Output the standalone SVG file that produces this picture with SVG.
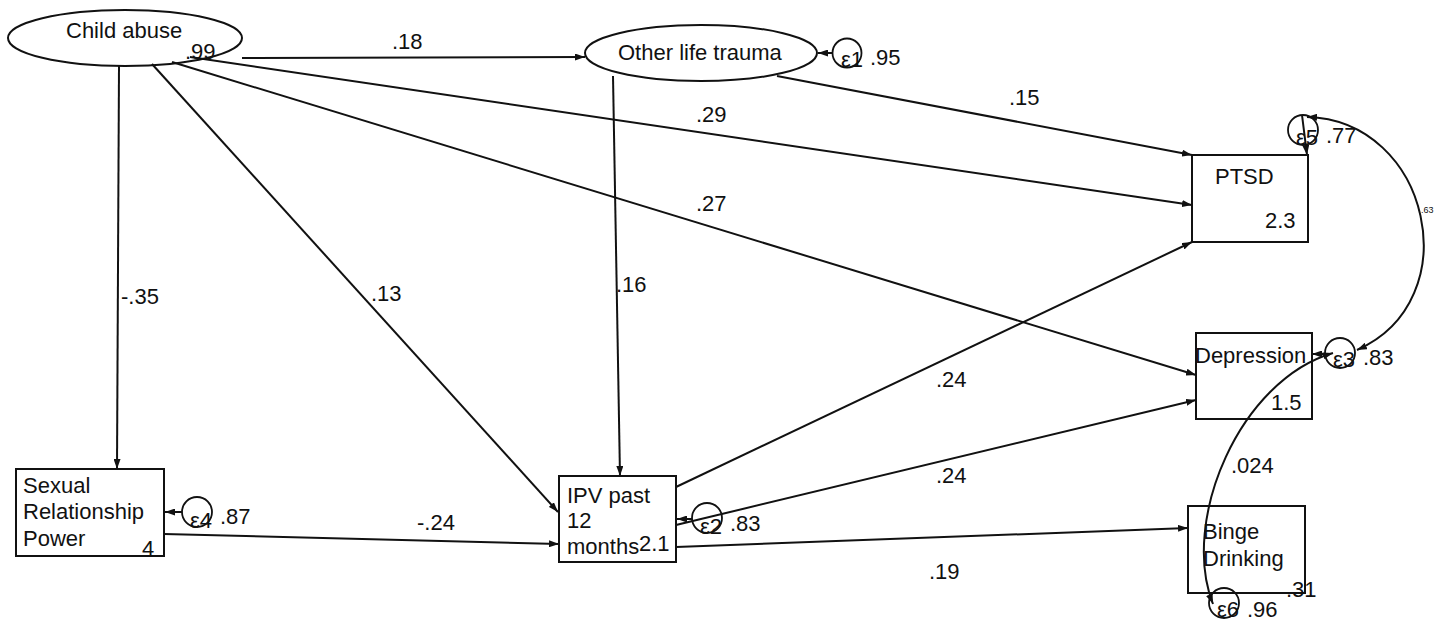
<svg xmlns="http://www.w3.org/2000/svg" width="1434" height="621" viewBox="0 0 1434 621">
<defs>
<marker id="ah" viewBox="0 0 10 7" refX="10" refY="3.5" markerWidth="10" markerHeight="7" markerUnits="userSpaceOnUse" orient="auto-start-reverse">
<path d="M0,0 L10,3.5 L0,7 z" fill="#111"/>
</marker>
</defs>
<style>
.sh{fill:none;stroke:#111;stroke-width:2}
.e{fill:none;stroke:#111;stroke-width:1.8}
.c{fill:none;stroke:#111;stroke-width:2;marker-end:url(#ah)}
.cc{fill:none;stroke:#111;stroke-width:2;marker-end:url(#ah);marker-start:url(#ah)}
text{font-family:"Liberation Sans",Arial,sans-serif;font-size:22px;fill:#111}
.sm{font-size:9px}
</style>
<rect width="1434" height="621" fill="#fff"/>

<g id="connectors">
<line class="c" x1="242" y1="58" x2="585" y2="57"/>
<line class="c" x1="777" y1="76" x2="1192" y2="155"/>
<line class="c" x1="190" y1="57" x2="1192" y2="205"/>
<line class="c" x1="172" y1="62" x2="1196" y2="375"/>
<line class="c" x1="119" y1="66" x2="117" y2="469"/>
<line class="c" x1="152" y1="64" x2="558" y2="512"/>
<line class="c" x1="613" y1="76" x2="620" y2="476"/>
<line class="c" x1="676" y1="487" x2="1192" y2="242"/>
<line class="c" x1="676" y1="525" x2="1196" y2="400"/>
<line class="c" x1="164" y1="534" x2="559" y2="544"/>
<line class="c" x1="676" y1="547" x2="1188" y2="528"/>
<line class="c" x1="832" y1="53" x2="818" y2="53"/>
<line class="c" x1="692" y1="519" x2="677" y2="519"/>
<line class="c" x1="182" y1="512" x2="165" y2="512"/>
<line class="c" x1="1325" y1="354" x2="1312" y2="354"/>
<line class="c" x1="1302" y1="115" x2="1307" y2="155"/>
<path class="cc" d="M1307,117 C1430,120 1470,300 1357,350"/>
<path class="cc" d="M1333,353 C1240,380 1180,520 1213,604"/>
</g>

<g id="child-abuse">
<ellipse class="sh" cx="125" cy="38" rx="117" ry="28"/>
<text x="66" y="38">Child abuse</text>
<text x="185" y="59">.99</text>
</g>

<g id="other-life-trauma">
<ellipse class="sh" cx="701" cy="53" rx="116" ry="28"/>
<text x="618" y="60">Other life trauma</text>
</g>

<g id="e1">
<circle class="e" cx="847" cy="53" r="14.5"/>
<text x="841" y="67">ε1</text>
<text x="870" y="65">.95</text>
</g>

<g id="ptsd">
<rect class="sh" x="1192" y="155" width="116" height="87"/>
<text x="1215" y="184">PTSD</text>
<text x="1265" y="228">2.3</text>
</g>

<g id="e5">
<circle class="e" cx="1303" cy="130" r="15"/>
<text x="1296" y="145">ε5</text>
<text x="1326" y="143">.77</text>
</g>

<g id="depression">
<rect class="sh" x="1196" y="333" width="116" height="86"/>
<text x="1195" y="363">Depression</text>
<text x="1271" y="410">1.5</text>
</g>

<g id="e3">
<circle class="e" cx="1340" cy="353" r="15"/>
<text x="1333" y="367">ε3</text>
<text x="1363" y="365">.83</text>
</g>

<g id="binge-drinking">
<rect class="sh" x="1188" y="506" width="117" height="87"/>
<text x="1203" y="539">Binge</text>
<text x="1203" y="566">Drinking</text>
<text x="1286" y="597">.31</text>
</g>

<g id="e6">
<circle class="e" cx="1224" cy="603" r="15"/>
<text x="1217" y="617">ε6</text>
<text x="1247" y="617">.96</text>
</g>

<g id="ipv">
<rect class="sh" x="559" y="476" width="117" height="86"/>
<text x="567" y="503">IPV past</text>
<text x="567" y="528">12</text>
<text x="567" y="554">months</text>
<text x="639" y="551">2.1</text>
</g>

<g id="e2">
<circle class="e" cx="707" cy="518" r="15"/>
<text x="700" y="534">ε2</text>
<text x="730" y="531">.83</text>
</g>

<g id="srp">
<rect class="sh" x="16" y="469" width="148" height="87"/>
<text x="23" y="493">Sexual</text>
<text x="23" y="519">Relationship</text>
<text x="23" y="546">Power</text>
<text x="142" y="556">4</text>
</g>

<g id="e4">
<circle class="e" cx="197" cy="512" r="15"/>
<text x="190" y="528">ε4</text>
<text x="220" y="524">.87</text>
</g>

<g id="labels">
<text x="392" y="49">.18</text>
<text x="1009" y="105">.15</text>
<text x="696" y="122">.29</text>
<text x="696" y="211">.27</text>
<text x="121" y="304">-.35</text>
<text x="371" y="301">.13</text>
<text x="616" y="292">.16</text>
<text x="936" y="387">.24</text>
<text x="936" y="483">.24</text>
<text x="417" y="530">-.24</text>
<text x="929" y="579">.19</text>
<text x="1231" y="473">.024</text>
<text class="sm" x="1421" y="213">.63</text>
</g>
</svg>
